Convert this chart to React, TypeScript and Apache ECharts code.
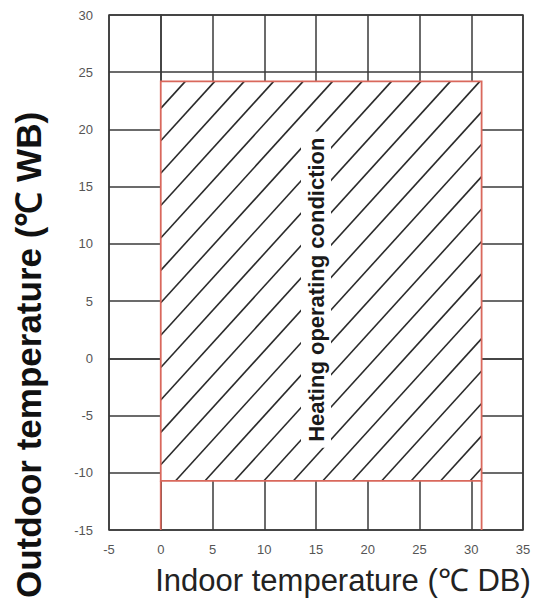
import React, { useEffect, useRef } from "react";
import * as echarts from "echarts";

// Axis ranges and ticks
const xTicks = [-5, 0, 5, 10, 15, 20, 25, 30, 35];
const yTicks = [-15, -10, -5, 0, 5, 10, 15, 20, 25, 30];
// Heating operating zone (indoor DB range, outdoor WB range)
const zoneX = [0, 31];
const zoneY = [-10.7, 24.2];
const zoneLabel = "Heating operating condiction";
const zoneLabelPos = [15, 6];
const xTitle = "Indoor temperature (\u2103 DB)";
const yTitle = "Outdoor temperature (\u2103 WB)";

const GRID = "#3a3a3a";
const RED = "#d9685c";

export default function App() {
  const ref = useRef<HTMLDivElement>(null);
  useEffect(() => {
    if (!ref.current) return;
    const chart = echarts.init(ref.current, undefined, { renderer: "svg" });
    const xMin = xTicks[0];
    const xMax = xTicks[xTicks.length - 1];
    const yMin = yTicks[0];
    const yMax = yTicks[yTicks.length - 1];
    const option: any = {
      animation: false,
      backgroundColor: "#fff",
      grid: {
        left: 109,
        right: 12,
        top: 15,
        bottom: 79,
        show: true,
        borderColor: GRID,
        borderWidth: 1.5,
      },
      xAxis: {
        type: "value",
        min: xMin,
        max: xMax,
        interval: 5,
        axisLine: { show: true, lineStyle: { color: GRID, width: 1.5 } },
        axisTick: { show: false },
        splitLine: { show: true, lineStyle: { color: GRID, width: 1.5 } },
        axisLabel: {
          color: "#555",
          fontSize: 13,
          fontFamily: "Liberation Sans",
          margin: 13,
        },
      },
      yAxis: {
        type: "value",
        min: yMin,
        max: yMax,
        interval: 5,
        axisLine: { show: true, lineStyle: { color: GRID, width: 1.5 } },
        axisTick: { show: false },
        splitLine: { show: true, lineStyle: { color: GRID, width: 1.5 } },
        axisLabel: {
          color: "#555",
          fontSize: 13,
          fontFamily: "Liberation Sans",
          margin: 16,
        },
      },
      series: [
        {
          type: "custom",
          clip: false,
          data: [[zoneX[0], zoneX[1], zoneY[0], zoneY[1]]],
          renderItem: (params: any, api: any) => {
            const p0 = api.coord([api.value(0), api.value(3)]);
            const p1 = api.coord([api.value(1), api.value(2)]);
            const x0 = p0[0];
            const yT = p0[1];
            const x1 = p1[0];
            const yB = p1[1];
            const bottomPx = api.coord([0, yMin])[1];
            const k = 1.1;
            const db = 32.4;
            const bStart = yT + k * x0;
            const bEnd = yB + k * x1;
            const lines: any[] = [];
            for (let b = bStart + 27 - db * 2; b <= bEnd + db; b += db) {
              const xa = Math.max(x0, (b - yB) / k);
              const xb = Math.min(x1, (b - yT) / k);
              if (xb - xa > 0.5) {
                lines.push({
                  type: "line",
                  shape: { x1: xa, y1: b - k * xa, x2: xb, y2: b - k * xb },
                  style: { stroke: "#2b2b2b", lineWidth: 1.6 },
                });
              }
            }
            const lp = api.coord(zoneLabelPos);
            return {
              type: "group",
              children: [
                {
                  type: "rect",
                  shape: { x: x0, y: yT, width: x1 - x0, height: yB - yT },
                  style: { fill: "#fff", stroke: "none" },
                },
                ...lines,
                {
                  type: "text",
                  x: lp[0],
                  y: lp[1],
                  rotation: Math.PI / 2,
                  style: {
                    text: zoneLabel,
                    fontSize: 22,
                    fontWeight: "bold",
                    fontFamily: "Liberation Sans",
                    fill: "#1a1a1a",
                    align: "center",
                    verticalAlign: "middle",
                    backgroundColor: "#fff",
                    padding: [4, 6],
                  },
                },
                {
                  type: "rect",
                  shape: { x: x0, y: yT, width: x1 - x0, height: yB - yT },
                  style: { fill: "none", stroke: RED, lineWidth: 1.8 },
                },
                {
                  type: "line",
                  shape: { x1: x0, y1: yB, x2: x0, y2: bottomPx },
                  style: { stroke: RED, lineWidth: 1.8 },
                },
                {
                  type: "line",
                  shape: { x1: x1, y1: yB, x2: x1, y2: bottomPx },
                  style: { stroke: RED, lineWidth: 1.8 },
                },
              ],
            };
          },
        },
      ],
      graphic: [
        {
          type: "text",
          x: 28,
          y: 355,
          rotation: Math.PI / 2,
          style: {
            text: yTitle,
            fontSize: 35,
            fontWeight: "bold",
            fontFamily: "Liberation Sans",
            fill: "#111",
            align: "center",
            verticalAlign: "middle",
          },
        },
        {
          type: "text",
          x: 343,
          y: 580,
          style: {
            text: xTitle,
            fontSize: 31,
            fontFamily: "Liberation Sans",
            fill: "#222",
            align: "center",
            verticalAlign: "middle",
          },
        },
      ],
    };
    chart.setOption(option);
    return () => chart.dispose();
  }, []);
  return (
    <div
      ref={ref}
      style={{ position: "fixed", left: 0, top: 0, width: 535, height: 609 }}
    />
  );
}
